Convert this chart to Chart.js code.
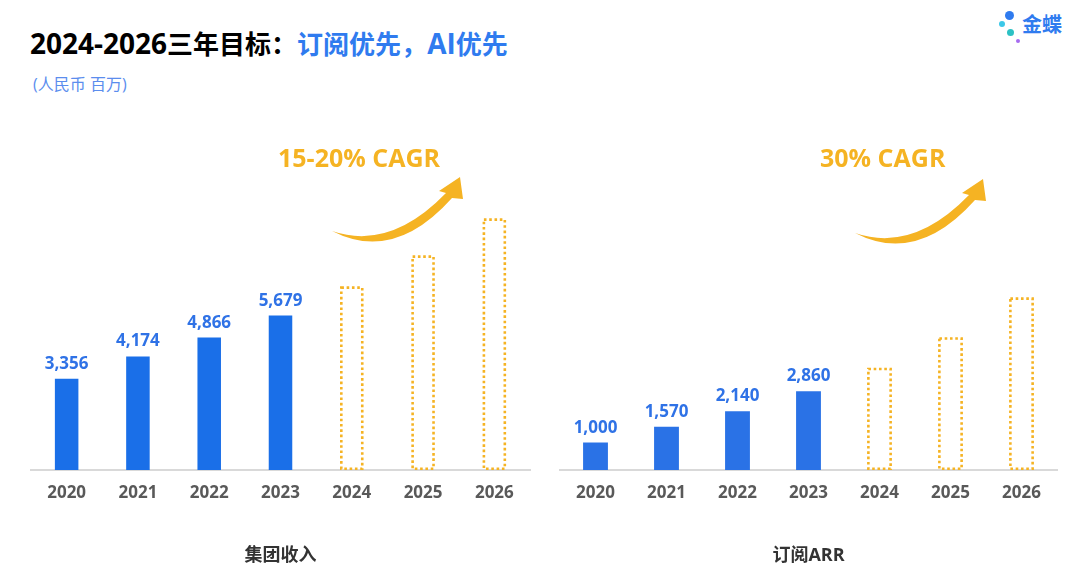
<!DOCTYPE html>
<html>
<head>
<meta charset="utf-8">
<script src="https://cdn.jsdelivr.net/npm/chart.js@4.4.0/dist/chart.umd.min.js"></script>
<style>
  body { margin: 0; width: 1080px; height: 568px; background: #fff; position: relative; overflow: hidden;
         font-family: "Open Sans", "Noto Sans CJK SC", sans-serif; }
  .title { position: absolute; left: 30px; top: 26px; font-size: 26px; line-height: 34px; font-weight: bold; color: #000; white-space: nowrap; }
  .title .num { font-size: 28px; font-weight: bold; }
  .title .blue { color: #2f7bef; }
  .sub { position: absolute; left: 33px; top: 73px; font-size: 16px; line-height: 22px; color: #5b8dee; white-space: nowrap; }
  .logo { position: absolute; left: 1022px; top: 11px; font-size: 20px; line-height: 26px; font-weight: bold; color: #2f7bef; font-family: "Noto Sans CJK SC"; }
  .dot { position: absolute; border-radius: 50%; }
  canvas { position: absolute; top: 0; }
</style>
</head>
<body>
<div class="title"><span class="num">2024-2026</span>三年目标：<span class="blue">订阅优先，<span class="num">AI</span>优先</span></div>
<div class="sub">(人民币 百万)</div>
<div class="dot" style="left:1005px;top:11px;width:9px;height:9px;background:#2f7bef"></div>
<div class="dot" style="left:999px;top:21px;width:6px;height:6px;background:#3cc8e8"></div>
<div class="dot" style="left:1007px;top:29px;width:7px;height:7px;background:#2cc1c4"></div>
<div class="dot" style="left:1016px;top:39px;width:4px;height:4px;background:#a66bf0"></div>
<div class="logo">金蝶</div>
<div style="position:absolute;left:0;top:0;width:540px;height:568px"><canvas id="revenue-chart"></canvas></div>
<div style="position:absolute;left:540px;top:0;width:540px;height:568px"><canvas id="arr-chart"></canvas></div>
<script>
// 年份
const years = ["2020", "2021", "2022", "2023", "2024", "2025", "2026"];

// 集团收入
const revenueActual = [3356, 4174, 4866, 5679, null, null, null];
const revenueTarget = [null, null, null, null, 6750, 7890, 9250];

// 订阅ARR
const arrActual = [1000, 1570, 2140, 2860, null, null, null];
const arrTarget = [null, null, null, null, 3720, 4830, 6280];

const ORANGE = "#f5b323";
const FONT = "'Open Sans', 'Noto Sans CJK SC', sans-serif";

// 虚线柱 + 数字 + 箭头
const targetPlugin = {
  id: "targetBars",
  afterDatasetsDraw(chart, args, opts) {
    const ctx = chart.ctx;
    const ds = chart.data.datasets;

    ctx.save();
    ctx.strokeStyle = ORANGE;
    ctx.lineWidth = 2.6;
    ctx.setLineDash([2.6, 2.7]);
    chart.getDatasetMeta(1).data.forEach((bar, i) => {
      if (ds[1].data[i] == null) return;
      const p = bar.getProps(["x", "y", "base", "width"], true);
      ctx.strokeRect(p.x - p.width / 2 + 1.3, p.y + 1.3, p.width - 2.6, p.base - p.y - 2.6);
    });
    ctx.restore();

    ctx.save();
    ctx.fillStyle = opts.labelColor;
    ctx.font = "bold 17px " + FONT;
    ctx.textAlign = "center";
    ctx.textBaseline = "alphabetic";
    chart.getDatasetMeta(0).data.forEach((bar, i) => {
      const v = ds[0].data[i];
      if (v == null) return;
      ctx.fillText(v.toLocaleString("en-US"), bar.x, bar.y - 10);
    });

    ctx.fillStyle = ORANGE;
    ctx.font = "bold 25px " + FONT;
    ctx.textAlign = "left";
    ctx.textBaseline = "middle";
    ctx.fillText(opts.cagr, opts.textX, 160);

    const x0 = opts.arrowX, y0 = opts.arrowY;
    ctx.beginPath();
    ctx.moveTo(x0, y0);
    ctx.quadraticCurveTo(x0 + 62, y0 + 32, x0 + 120, y0 - 33);
    ctx.lineTo(x0 + 131, y0 - 32);
    ctx.lineTo(x0 + 128, y0 - 54);
    ctx.lineTo(x0 + 107, y0 - 40);
    ctx.lineTo(x0 + 114, y0 - 38);
    ctx.quadraticCurveTo(x0 + 58, y0 + 20, x0, y0);
    ctx.closePath();
    ctx.fill();
    ctx.restore();
  },
};

function makeChart(id, actual, target, title, barColor, yMax, pad, extra) {
  return new Chart(document.getElementById(id), {
    type: "bar",
    data: {
      labels: years,
      datasets: [
        { data: actual, backgroundColor: barColor, borderWidth: 0, barPercentage: pad.bar, categoryPercentage: 1 },
        { data: target, backgroundColor: "rgba(0,0,0,0)", borderWidth: 0, barPercentage: pad.bar, categoryPercentage: 1 },
      ],
    },
    options: {
      responsive: true,
      maintainAspectRatio: false,
      animation: false,
      layout: { padding: { left: pad.left, right: pad.right, top: 140, bottom: 1 } },
      plugins: {
        legend: { display: false },
        tooltip: { enabled: false },
        targetBars: extra,
      },
      scales: {
        x: {
          stacked: true,
          grid: { display: false },
          border: { display: true, color: "#d9d9d9", width: 2 },
          ticks: { color: "#595959", padding: 5, font: { size: 17, weight: "bold", family: FONT } },
          title: {
            display: true,
            text: title,
            color: "#333333",
            padding: { top: 37, bottom: 0 },
            font: { size: 18, weight: "bold", family: FONT },
          },
        },
        y: { stacked: true, display: false, min: 0, max: yMax },
      },
    },
    plugins: [targetPlugin],
  });
}

makeChart("revenue-chart", revenueActual, revenueTarget, "集团收入", "#1a6fe8", 12130,
  { left: 31, right: 10, bar: 0.33 },
  { cagr: "15-20% CAGR", textX: 278, arrowX: 332, arrowY: 231, labelColor: "#2f72e6" });

makeChart("arr-chart", arrActual, arrTarget, "订阅ARR", "#2a72e6", 12000,
  { left: 20, right: 23, bar: 0.35 },
  { cagr: "30% CAGR", textX: 280, arrowX: 315, arrowY: 233, labelColor: "#2f72e6" });
</script>
</body>
</html>
